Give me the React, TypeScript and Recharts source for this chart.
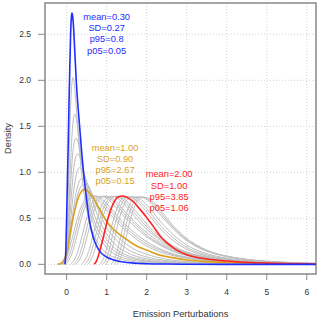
import React from 'react'
import { LineChart, Line, XAxis, YAxis, CartesianGrid, ReferenceArea, ReferenceDot } from 'recharts'

type Pt = [number, number]

const xTicks = [0, 1, 2, 3, 4, 5, 6]
const yTicks = [0, 0.5, 1, 1.5, 2, 2.5]

const blueNote = ['mean=0.30', 'SD=0.27', 'p95=0.8', 'p05=0.05']
const goldNote = ['mean=1.00', 'SD=0.90', 'p95=2.67', 'p05=0.15']
const redNote = ['mean=2.00', 'SD=1.00', 'p95=3.85', 'p05=1.06']

// highlighted densities
const bluePts: Pt[] = [
  [-0.04, 0], [-0.02, 0.15], [0, 0.5], [0.02, 0.9], [0.04, 1.3], [0.06, 1.75], [0.08, 2.15],
  [0.1, 2.5], [0.12, 2.69], [0.135, 2.73], [0.15, 2.7], [0.17, 2.6], [0.2, 2.35], [0.24, 2.0],
  [0.28, 1.74], [0.33, 1.47], [0.38, 1.2], [0.44, 0.93], [0.5, 0.7], [0.58, 0.45], [0.66, 0.3],
  [0.75, 0.2], [0.85, 0.13], [1.0, 0.08], [1.2, 0.045], [1.5, 0.02], [2.0, 0.007], [2.5, 0.003],
  [3.0, 0.001], [4.0, 0], [6.3, 0],
]
const goldPts: Pt[] = [
  [-0.23, 0], [-0.15, 0.01], [-0.08, 0.04], [0, 0.12], [0.05, 0.24], [0.1, 0.37], [0.17, 0.52],
  [0.23, 0.63], [0.29, 0.72], [0.35, 0.78], [0.42, 0.81], [0.46, 0.815], [0.54, 0.79], [0.65, 0.73],
  [0.75, 0.66], [0.875, 0.56], [1.0, 0.47], [1.25, 0.35], [1.5, 0.27], [1.75, 0.2], [2.0, 0.155],
  [2.33, 0.1], [2.67, 0.07], [3.0, 0.047], [3.5, 0.03], [4.0, 0.02], [4.5, 0.012], [5.0, 0.008],
  [5.5, 0.005], [6.0, 0.003], [6.3, 0.002],
]
const redPts: Pt[] = [
  [0.69, 0], [0.75, 0.04], [0.83, 0.15], [0.92, 0.3], [1.0, 0.445], [1.1, 0.59], [1.2, 0.69],
  [1.3, 0.735], [1.375, 0.742], [1.5, 0.73], [1.67, 0.68], [1.83, 0.6], [2.0, 0.51], [2.17, 0.41],
  [2.33, 0.31], [2.5, 0.235], [2.75, 0.155], [3.0, 0.105], [3.5, 0.058], [4.0, 0.036], [4.5, 0.022],
  [5.0, 0.013], [5.5, 0.008], [6.0, 0.005], [6.3, 0.004],
]

// grey family between blue and gold
const grayA: Pt[][] = [
  [[-0.05, 0], [0, 0.2], [0.04, 0.75], [0.08, 1.45], [0.12, 1.9], [0.16, 2.03], [0.2, 1.93], [0.25, 1.65],
    [0.3, 1.35], [0.36, 1.05], [0.42, 0.82], [0.5, 0.6], [0.6, 0.42], [0.7, 0.3], [0.85, 0.19], [1.0, 0.12],
    [1.25, 0.07], [1.5, 0.04], [2.0, 0.015], [2.5, 0.006], [3.0, 0.002], [4.0, 0], [6.3, 0]],
  [[-0.07, 0], [0, 0.15], [0.05, 0.55], [0.1, 1.1], [0.15, 1.5], [0.2, 1.63], [0.25, 1.57], [0.3, 1.4],
    [0.36, 1.17], [0.43, 0.93], [0.5, 0.74], [0.6, 0.54], [0.7, 0.4], [0.85, 0.27], [1.0, 0.18], [1.25, 0.1],
    [1.5, 0.06], [2.0, 0.025], [2.5, 0.01], [3.0, 0.004], [3.5, 0.001], [4.5, 0], [6.3, 0]],
  [[-0.09, 0], [0, 0.12], [0.05, 0.42], [0.1, 0.85], [0.16, 1.24], [0.23, 1.37], [0.29, 1.32], [0.35, 1.18],
    [0.42, 0.99], [0.5, 0.8], [0.6, 0.6], [0.7, 0.46], [0.85, 0.32], [1.0, 0.22], [1.25, 0.13], [1.5, 0.08],
    [2.0, 0.035], [2.5, 0.015], [3.0, 0.007], [3.5, 0.003], [4.5, 0], [6.3, 0]],
  [[-0.11, 0], [0, 0.1], [0.06, 0.38], [0.12, 0.75], [0.19, 1.08], [0.27, 1.2], [0.34, 1.16], [0.42, 1.02],
    [0.5, 0.86], [0.6, 0.68], [0.7, 0.53], [0.85, 0.38], [1.0, 0.27], [1.25, 0.16], [1.5, 0.1], [2.0, 0.045],
    [2.5, 0.02], [3.0, 0.01], [3.5, 0.005], [4.0, 0.002], [5.0, 0], [6.3, 0]],
  [[-0.14, 0], [-0.05, 0.03], [0, 0.09], [0.07, 0.33], [0.15, 0.7], [0.23, 0.95], [0.32, 1.05], [0.4, 1.02],
    [0.5, 0.9], [0.6, 0.76], [0.7, 0.62], [0.85, 0.45], [1.0, 0.33], [1.25, 0.2], [1.5, 0.13], [2.0, 0.06],
    [2.5, 0.03], [3.0, 0.015], [3.5, 0.008], [4.0, 0.004], [5.0, 0.001], [6.3, 0]],
  [[-0.17, 0], [-0.07, 0.03], [0, 0.09], [0.08, 0.3], [0.17, 0.6], [0.27, 0.84], [0.38, 0.93], [0.47, 0.91],
    [0.57, 0.83], [0.7, 0.69], [0.85, 0.53], [1.0, 0.4], [1.25, 0.26], [1.5, 0.17], [2.0, 0.08], [2.5, 0.04],
    [3.0, 0.02], [3.5, 0.012], [4.0, 0.006], [4.5, 0.003], [5.5, 0.001], [6.3, 0]],
  [[-0.2, 0], [-0.1, 0.02], [0, 0.08], [0.08, 0.26], [0.17, 0.52], [0.28, 0.76], [0.42, 0.87], [0.52, 0.85],
    [0.62, 0.78], [0.75, 0.66], [0.9, 0.53], [1.05, 0.42], [1.3, 0.29], [1.55, 0.2], [2.0, 0.11], [2.5, 0.055],
    [3.0, 0.03], [3.5, 0.017], [4.0, 0.01], [4.5, 0.005], [5.5, 0.002], [6.3, 0.001]],
]

// grey family between gold and red
const grayB: Pt[][] = [
  [[-0.16, 0], [-0.05, 0.04], [0.05, 0.14], [0.15, 0.3], [0.25, 0.47], [0.35, 0.61], [0.45, 0.7], [0.58, 0.75],
    [0.72, 0.72], [0.9, 0.64], [1.1, 0.54], [1.3, 0.44], [1.5, 0.36], [1.75, 0.27], [2.0, 0.2], [2.3, 0.14],
    [2.7, 0.09], [3.0, 0.065], [3.5, 0.04], [4.0, 0.024], [4.5, 0.014], [5.0, 0.008], [5.5, 0.005], [6.3, 0.003]],
  [[-0.09, 0], [0, 0.04], [0.1, 0.14], [0.2, 0.3], [0.3, 0.47], [0.4, 0.61], [0.5, 0.7], [0.65, 0.745],
    [0.8, 0.72], [0.95, 0.65], [1.15, 0.55], [1.35, 0.45], [1.55, 0.37], [1.8, 0.28], [2.05, 0.21], [2.35, 0.15],
    [2.7, 0.1], [3.0, 0.072], [3.5, 0.044], [4.0, 0.027], [4.5, 0.016], [5.0, 0.009], [5.5, 0.006], [6.3, 0.003]],
  [[-0.03, 0], [0.05, 0.04], [0.15, 0.14], [0.25, 0.3], [0.35, 0.47], [0.45, 0.61], [0.56, 0.7], [0.71, 0.745],
    [0.86, 0.72], [1.0, 0.66], [1.2, 0.56], [1.4, 0.46], [1.6, 0.38], [1.85, 0.29], [2.1, 0.22], [2.4, 0.155],
    [2.7, 0.11], [3.0, 0.08], [3.5, 0.048], [4.0, 0.03], [4.5, 0.018], [5.0, 0.01], [5.5, 0.006], [6.3, 0.004]],
  [[0.1, 0], [0.18, 0.04], [0.28, 0.14], [0.38, 0.3], [0.48, 0.47], [0.58, 0.61], [0.69, 0.7], [0.84, 0.74],
    [1.0, 0.72], [1.15, 0.66], [1.35, 0.56], [1.55, 0.47], [1.75, 0.39], [2.0, 0.3], [2.25, 0.23], [2.5, 0.17],
    [2.8, 0.12], [3.1, 0.085], [3.5, 0.055], [4.0, 0.033], [4.5, 0.02], [5.0, 0.012], [5.5, 0.007], [6.3, 0.004]],
  [[0.17, 0], [0.25, 0.04], [0.35, 0.14], [0.45, 0.3], [0.55, 0.47], [0.65, 0.61], [0.76, 0.7], [0.91, 0.74],
    [1.06, 0.72], [1.22, 0.66], [1.42, 0.56], [1.62, 0.47], [1.82, 0.39], [2.05, 0.3], [2.3, 0.23], [2.55, 0.17],
    [2.85, 0.12], [3.15, 0.088], [3.55, 0.057], [4.0, 0.035], [4.5, 0.021], [5.0, 0.013], [5.5, 0.008], [6.3, 0.004]],
  [[0.23, 0], [0.31, 0.04], [0.41, 0.14], [0.51, 0.3], [0.61, 0.47], [0.71, 0.61], [0.82, 0.7], [0.97, 0.74],
    [1.12, 0.72], [1.28, 0.66], [1.48, 0.56], [1.68, 0.47], [1.88, 0.39], [2.1, 0.31], [2.35, 0.235], [2.6, 0.175],
    [2.9, 0.125], [3.2, 0.09], [3.6, 0.058], [4.0, 0.038], [4.5, 0.023], [5.0, 0.014], [5.5, 0.008], [6.3, 0.004]],
  [[0.37, 0], [0.45, 0.04], [0.55, 0.14], [0.65, 0.3], [0.75, 0.47], [0.85, 0.61], [0.96, 0.7], [1.1, 0.74],
    [1.25, 0.725], [1.4, 0.67], [1.6, 0.57], [1.8, 0.47], [2.0, 0.38], [2.25, 0.29], [2.5, 0.215], [2.75, 0.16],
    [3.0, 0.12], [3.4, 0.08], [3.8, 0.053], [4.3, 0.033], [4.8, 0.02], [5.3, 0.012], [5.8, 0.007], [6.3, 0.004]],
  [[0.45, 0], [0.53, 0.04], [0.62, 0.14], [0.72, 0.3], [0.82, 0.47], [0.92, 0.61], [1.03, 0.7], [1.17, 0.74],
    [1.32, 0.725], [1.47, 0.67], [1.66, 0.575], [1.85, 0.48], [2.05, 0.385], [2.27, 0.3], [2.52, 0.222], [2.78, 0.165],
    [3.05, 0.12], [3.45, 0.08], [3.85, 0.053], [4.35, 0.033], [4.85, 0.02], [5.35, 0.012], [5.85, 0.007], [6.3, 0.005]],
  [[0.53, 0], [0.6, 0.04], [0.69, 0.14], [0.79, 0.3], [0.88, 0.47], [0.98, 0.61], [1.09, 0.7], [1.23, 0.74],
    [1.38, 0.725], [1.54, 0.67], [1.72, 0.58], [1.9, 0.49], [2.1, 0.39], [2.3, 0.31], [2.55, 0.23], [2.8, 0.17],
    [3.1, 0.12], [3.5, 0.08], [3.9, 0.053], [4.4, 0.033], [4.9, 0.02], [5.4, 0.012], [5.9, 0.007], [6.3, 0.005]],
]

// grey family right of red
const grayC: Pt[][] = [
  [[0.83, 0], [0.9, 0.04], [0.98, 0.14], [1.07, 0.3], [1.16, 0.47], [1.26, 0.61], [1.36, 0.7], [1.5, 0.735],
    [1.65, 0.72], [1.82, 0.66], [2.0, 0.57], [2.2, 0.46], [2.4, 0.36], [2.6, 0.28], [2.85, 0.2], [3.1, 0.145],
    [3.4, 0.1], [3.8, 0.065], [4.2, 0.043], [4.7, 0.027], [5.2, 0.016], [5.7, 0.01], [6.3, 0.006]],
  [[0.9, 0], [0.97, 0.04], [1.05, 0.14], [1.14, 0.3], [1.23, 0.47], [1.33, 0.61], [1.43, 0.7], [1.57, 0.735],
    [1.72, 0.72], [1.89, 0.66], [2.07, 0.57], [2.27, 0.46], [2.47, 0.365], [2.67, 0.285], [2.92, 0.205], [3.17, 0.15],
    [3.47, 0.105], [3.85, 0.07], [4.25, 0.046], [4.75, 0.028], [5.25, 0.017], [5.75, 0.011], [6.3, 0.006]],
  [[0.97, 0], [1.04, 0.04], [1.12, 0.14], [1.21, 0.3], [1.3, 0.47], [1.4, 0.61], [1.5, 0.7], [1.64, 0.735],
    [1.8, 0.72], [1.97, 0.66], [2.15, 0.57], [2.35, 0.46], [2.55, 0.37], [2.75, 0.29], [3.0, 0.21], [3.25, 0.155],
    [3.55, 0.11], [3.9, 0.075], [4.3, 0.05], [4.8, 0.03], [5.3, 0.019], [5.8, 0.012], [6.3, 0.007]],
  [[1.11, 0], [1.18, 0.04], [1.26, 0.14], [1.35, 0.3], [1.44, 0.47], [1.54, 0.61], [1.64, 0.7], [1.78, 0.735],
    [1.94, 0.72], [2.11, 0.66], [2.3, 0.56], [2.5, 0.46], [2.7, 0.37], [2.9, 0.29], [3.15, 0.215], [3.4, 0.16],
    [3.7, 0.115], [4.05, 0.08], [4.45, 0.054], [4.9, 0.035], [5.4, 0.022], [5.9, 0.014], [6.3, 0.01]],
  [[1.18, 0], [1.25, 0.04], [1.33, 0.14], [1.42, 0.3], [1.51, 0.47], [1.61, 0.61], [1.71, 0.7], [1.85, 0.733],
    [2.01, 0.715], [2.18, 0.65], [2.36, 0.555], [2.55, 0.455], [2.75, 0.365], [2.95, 0.285], [3.2, 0.212], [3.45, 0.157],
    [3.75, 0.112], [4.1, 0.079], [4.5, 0.053], [4.95, 0.035], [5.45, 0.022], [5.95, 0.014], [6.3, 0.011]],
  [[1.25, 0], [1.32, 0.04], [1.4, 0.14], [1.49, 0.3], [1.58, 0.47], [1.68, 0.61], [1.78, 0.7], [1.92, 0.73],
    [2.08, 0.71], [2.25, 0.64], [2.42, 0.55], [2.6, 0.45], [2.8, 0.36], [3.0, 0.28], [3.25, 0.21], [3.5, 0.155],
    [3.8, 0.11], [4.15, 0.078], [4.55, 0.052], [5.0, 0.034], [5.5, 0.022], [6.0, 0.014], [6.3, 0.011]],
]

const FONT = '"Liberation Sans", Arial, sans-serif'
const BLUE = '#1f2dff'
const GOLD = '#d9a21f'
const RED = '#ff2020'

const rows = (pts: Pt[]) => pts.map(([x, y]) => ({ x, y }))

function Note({ viewBox, lines, color }: any) {
  const cx = viewBox.x + (viewBox.width || 0) / 2
  const cy = viewBox.y + (viewBox.height || 0) / 2
  return (
    <text x={cx} y={cy} fill={color} fontSize={9.3} fontFamily={FONT} textAnchor="middle">
      {lines.map((t: string, i: number) => (
        <tspan key={i} x={cx} dy={i === 0 ? '0.35em' : 11.2}>{t}</tspan>
      ))}
    </text>
  )
}

export default function App() {
  return (
    <div style={{ position: 'absolute', left: 0, top: 0, width: 320, height: 320, background: '#fff' }}>
      <LineChart width={320} height={320} margin={{ top: 3, right: 4, bottom: 0, left: 0 }}>
        <CartesianGrid stroke="#d2d2d2" strokeDasharray="1 2" />
        <XAxis
          type="number"
          dataKey="x"
          domain={[-0.54, 6.23]}
          allowDataOverflow
          ticks={xTicks}
          height={46}
          axisLine={false}
          tickSize={6}
          tickMargin={9}
          tickLine={{ stroke: '#8a8a8a' }}
          tick={{ fontSize: 8.5, fill: '#333', fontFamily: FONT }}
          label={{
            content: () => (
              <text x={180.5} y={317} textAnchor="middle" fontSize={9.3} fill="#333" fontFamily={FONT}>
                Emission Perturbations
              </text>
            ),
          }}
        />
        <YAxis
          type="number"
          domain={[-0.105, 2.84]}
          allowDataOverflow
          ticks={yTicks}
          width={45}
          axisLine={false}
          tickSize={7}
          tickMargin={7}
          tickLine={{ stroke: '#8a8a8a' }}
          tickFormatter={(v: number) => v.toFixed(1)}
          tick={{ fontSize: 8.5, fill: '#333', fontFamily: FONT }}
          label={{
            content: () => (
              <text x={8} y={138.5} transform="rotate(-90, 8, 138.5)" textAnchor="middle" dominantBaseline="central" fontSize={9.3} fill="#333" fontFamily={FONT}>
                Density
              </text>
            ),
          }}
        />
        {[...grayA, ...grayB, ...grayC].map((c, i) => (
          <Line key={'g' + i} data={rows(c)} dataKey="y" type="monotone" stroke="#bdbdbd" strokeWidth={1} dot={false} isAnimationActive={false} />
        ))}
        <Line data={rows(goldPts)} dataKey="y" type="monotone" stroke={GOLD} strokeWidth={1.6} dot={false} isAnimationActive={false} />
        <Line data={rows(redPts)} dataKey="y" type="monotone" stroke={RED} strokeWidth={1.6} dot={false} isAnimationActive={false} />
        <Line data={rows(bluePts)} dataKey="y" type="monotone" stroke={BLUE} strokeWidth={1.6} dot={false} isAnimationActive={false} />
        <ReferenceArea x1={-0.54} x2={6.23} y1={-0.105} y2={2.84} fill="none" stroke="#8a8a8a" strokeWidth={1.5} ifOverflow="visible" />
        <ReferenceDot x={1.0} y={2.69} r={1} fill="none" stroke="none" label={{ content: (p: any) => <Note viewBox={p.viewBox} lines={blueNote} color={BLUE} /> }} />
        <ReferenceDot x={1.21} y={1.27} r={1} fill="none" stroke="none" label={{ content: (p: any) => <Note viewBox={p.viewBox} lines={goldNote} color={GOLD} /> }} />
        <ReferenceDot x={2.56} y={0.98} r={1} fill="none" stroke="none" label={{ content: (p: any) => <Note viewBox={p.viewBox} lines={redNote} color={RED} /> }} />
      </LineChart>
    </div>
  )
}
